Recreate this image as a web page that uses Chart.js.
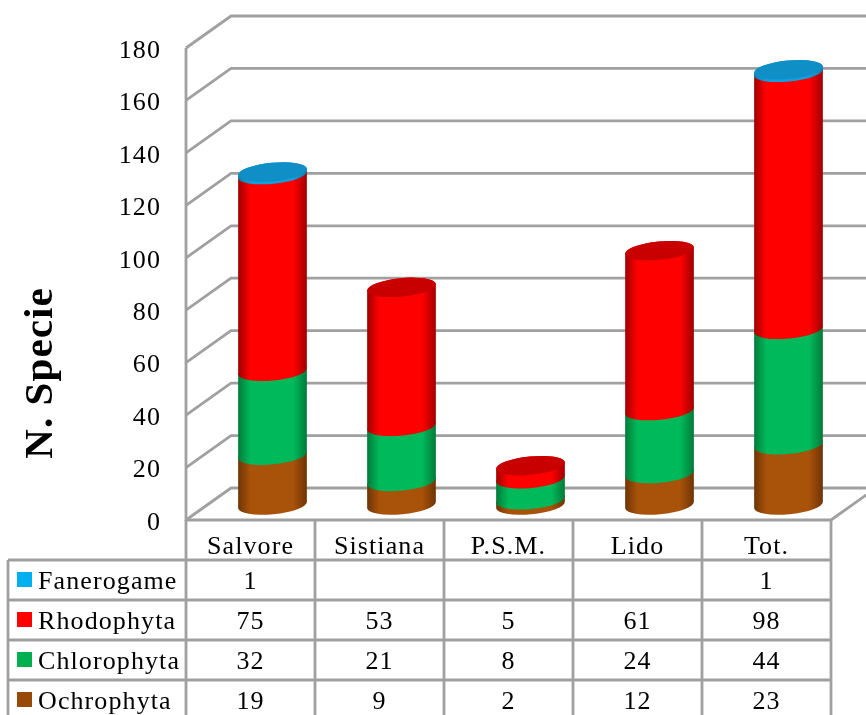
<!DOCTYPE html>
<html>
<head>
<meta charset="utf-8">
<script src="https://cdn.jsdelivr.net/npm/chart.js@4"></script>
<style>
  html, body { margin: 0; padding: 0; background: #fff; }
  canvas { display: block; }
</style>
</head>
<body>
<canvas id="chart" width="866" height="715"></canvas>
<script>
const categories = ['Salvore', 'Sistiana', 'P.S.M.', 'Lido', 'Tot.'];
const fanerogame = [1, null, null, null, 1];
const rhodophyta = [75, 53, 5, 61, 98];
const chlorophyta = [32, 21, 8, 24, 44];
const ochrophyta = [19, 9, 2, 12, 23];

const FONT = '"Liberation Serif"';
const SPACING = '1.1px';
const GRID = '#a0a0a0';
const DEPTH_X = 45, DEPTH_Y = 32;   // back wall offset
const BAR_DX = 22, BAR_DY = 15;     // cylinders stand mid-floor
const TILT = -5.5 * Math.PI / 180;

// key colour, edge shade, middle shade, cap colour
const shades = {
    Fanerogame: ['#00B0F0', '#0a7fb0', '#10a0dc', '#0f8fc6'],
    Rhodophyta: ['#FF0000', '#a00000', '#ff0000', '#c80000'],
    Chlorophyta: ['#00B050', '#007a3a', '#00b95a', '#009a46'],
    Ochrophyta: ['#984807', '#6e3404', '#a8520a', '#8a4206']
};

function cylinderFill(ctx, name, left, right) {
    const s = shades[name];
    const g = ctx.createLinearGradient(left, 0, right, 0);
    g.addColorStop(0, s[1]);
    g.addColorStop(0.18, s[2]);
    g.addColorStop(0.8, s[2]);
    g.addColorStop(1, s[1]);
    return g;
}

function drawWalls(chart) {
    const { ctx, chartArea: a } = chart;
    const y = chart.scales.y;
    ctx.save();
    ctx.strokeStyle = GRID;
    ctx.lineWidth = 2.8;
    y.ticks.forEach(t => {
        const py = y.getPixelForValue(t.value);
        ctx.beginPath();
        ctx.moveTo(a.left, py);
        ctx.lineTo(a.left + DEPTH_X, py - DEPTH_Y);
        ctx.lineTo(chart.width, py - DEPTH_Y);
        ctx.stroke();
    });
    ctx.beginPath();
    ctx.moveTo(a.left, y.getPixelForValue(180));
    ctx.lineTo(a.left, a.bottom);
    ctx.lineTo(a.right, a.bottom);
    ctx.lineTo(a.right + DEPTH_X, a.bottom - DEPTH_Y);
    ctx.stroke();
    ctx.restore();
}

function drawTable(chart) {
    const { ctx, chartArea: a } = chart;
    const x = chart.scales.x;
    const rowH = 40;
    const colW = x.getPixelForValue(1) - x.getPixelForValue(0);
    const tableLeft = 8;
    const rows = chart.data.datasets.slice().reverse();
    ctx.save();
    ctx.strokeStyle = GRID;
    ctx.lineWidth = 2.8;
    for (let c = 0; c <= categories.length; c++) {
        ctx.beginPath();
        ctx.moveTo(a.left + c * colW, a.bottom);
        ctx.lineTo(a.left + c * colW, chart.height);
        ctx.stroke();
    }
    ctx.beginPath();
    ctx.moveTo(tableLeft, chart.height);
    ctx.lineTo(tableLeft, a.bottom + rowH);
    ctx.stroke();
    rows.forEach((ds, r) => {
        const top = a.bottom + rowH * (r + 1);
        const mid = top + rowH / 2;
        ctx.beginPath();
        ctx.moveTo(tableLeft, top);
        ctx.lineTo(a.right, top);
        ctx.stroke();
        ctx.fillStyle = shades[ds.label][0];
        ctx.fillRect(17, mid - 8, 15, 15);
        ctx.fillStyle = '#000';
        ctx.font = '26px ' + FONT;
        ctx.textBaseline = 'middle';
        ctx.textAlign = 'left';
        ctx.fillText(ds.label, 38, mid + 2);
        ctx.textAlign = 'center';
        ds.data.forEach((v, c) => {
            if (v !== null) ctx.fillText(String(v), x.getPixelForValue(c), mid + 2);
        });
    });
    ctx.restore();
}

function drawCylinders(chart) {
    const { ctx } = chart;
    const metas = chart.getSortedVisibleDatasetMetas();
    categories.forEach((cat, c) => {
        let cap = null;
        metas.forEach(meta => {
            const bar = meta.data[c];
            const name = chart.data.datasets[meta.index].label;
            if (chart.data.datasets[meta.index].data[c] === null) return;
            const props = bar.getProps(['x', 'y', 'base', 'width'], true);
            const cx = props.x + BAR_DX;
            const rx = props.width / 2;
            const ry = 9.2;
            const low = props.base - BAR_DY;
            const high = props.y - BAR_DY;
            ctx.save();
            ctx.fillStyle = cylinderFill(ctx, name, cx - rx, cx + rx);
            ctx.beginPath();
            ctx.ellipse(cx, low, rx, ry, TILT, 0, Math.PI);
            ctx.ellipse(cx, high, rx, ry, TILT, Math.PI, 2 * Math.PI);
            ctx.closePath();
            ctx.fill();
            ctx.restore();
            cap = { cx, high, rx, ry, name };
        });
        if (cap) {
            ctx.save();
            ctx.fillStyle = shades[cap.name][3];
            ctx.beginPath();
            ctx.ellipse(cap.cx, cap.high, cap.rx, cap.ry, TILT, 0, 2 * Math.PI);
            ctx.fill();
            ctx.restore();
        }
    });
}

function drawAxisTitle(chart) {
    const { ctx } = chart;
    ctx.save();
    ctx.translate(41, 373);
    ctx.rotate(-Math.PI / 2);
    ctx.fillStyle = '#000';
    ctx.font = 'bold 41px ' + FONT;
    ctx.textAlign = 'center';
    ctx.textBaseline = 'middle';
    ctx.fillText('N. Specie', 0, 0);
    ctx.restore();
}

const cylinderPlugin = {
    id: 'cylinders',
    beforeDraw(chart) {
        chart.ctx.letterSpacing = SPACING;
    },
    beforeDatasetsDraw(chart) {
        drawWalls(chart);
        drawTable(chart);
        drawCylinders(chart);
        drawAxisTitle(chart);
        return false;
    }
};

new Chart(document.getElementById('chart'), {
    type: 'bar',
    data: {
        labels: categories,
        datasets: [
            { label: 'Ochrophyta', data: ochrophyta },
            { label: 'Chlorophyta', data: chlorophyta },
            { label: 'Rhodophyta', data: rhodophyta },
            { label: 'Fanerogame', data: fanerogame }
        ]
    },
    options: {
        responsive: false,
        animation: false,
        devicePixelRatio: 1,
        barPercentage: 0.535,
        categoryPercentage: 1,
        layout: { padding: { top: 48, right: 35, left: 0, bottom: 0 } },
        plugins: { legend: { display: false }, tooltip: { enabled: false } },
        scales: {
            x: {
                stacked: true,
                grid: { display: false },
                border: { display: false },
                ticks: { color: '#000', font: { family: FONT, size: 26 }, padding: 4, maxRotation: 0 },
                afterFit(scale) { scale.height = 195; }
            },
            y: {
                stacked: true,
                min: 0,
                max: 180,
                grid: { display: false, drawTicks: false },
                border: { display: false },
                ticks: { stepSize: 20, color: '#000', font: { family: FONT, size: 26 }, padding: 25, labelOffset: 3 },
                afterFit(scale) { scale.width = 186; }
            }
        }
    },
    plugins: [cylinderPlugin]
});
</script>
</body>
</html>
